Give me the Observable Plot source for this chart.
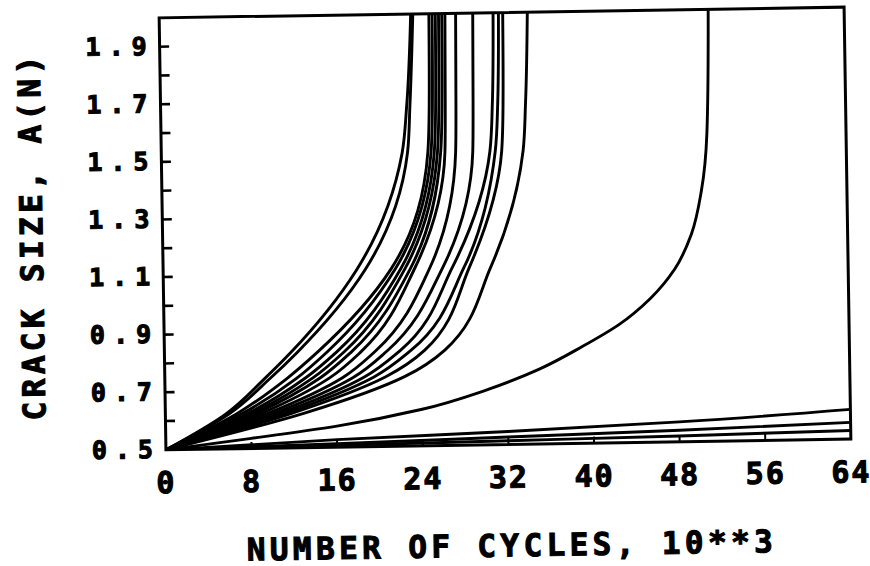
<!DOCTYPE html>
<html>
<head>
<meta charset="utf-8">
<script src="https://cdn.jsdelivr.net/npm/d3@7"></script>
<script src="https://cdn.jsdelivr.net/npm/@observablehq/plot@0.6"></script>
<style>
  html, body { margin: 0; padding: 0; background: #fff; overflow: hidden; }
  #chart { width: 870px; height: 566px; }
  #chart svg { overflow: visible; transform-origin: 504px 228px; transform: rotate(-0.9deg); }
  #chart text { stroke: #000; stroke-width: 1.1px; }
  #chart g[aria-label="y-axis tick label"] text { letter-spacing: 8px; }
  #chart g[aria-label="x-axis tick label"] text { letter-spacing: 2px; }
  #chart g[aria-label="text"] text { letter-spacing: 4.4px; }
</style>
</head>
<body>
<div id="chart"></div>
<script>
// ---- data ----
const xTitle = "NUMBER OF CYCLES, 10**3";
const yTitle = "CRACK SIZE, A(N)";
const xTickLabels = [0, 8, 16, 24, 32, 40, 48, 56, 64];
const xInnerTicks = [8, 16, 24, 32, 40, 48, 56];
const yTickLabels = [0.5, 0.7, 0.9, 1.1, 1.3, 1.5, 1.7, 1.9];
const yInnerTicks = [0.6, 0.7, 0.8, 0.9, 1.0, 1.1, 1.2, 1.3, 1.4, 1.5, 1.6, 1.7, 1.8, 1.9];

// fast-growing curves: cycles (10^3) at which each reaches these crack sizes
const fastSizes = [0.5, 0.62, 0.741, 0.831, 1.116, 1.518, 1.684, 2.0];
const fastCycles = [
  [0, 5.6, 9.3, 11.8, 18.1, 22.5, 23.0, 23.5],
  [0, 5.9, 9.8, 12.4, 18.9, 23.0, 23.3, 23.7],
  [0, 6.6, 11.4, 14.3, 21.3, 24.9, 25.1, 25.2],
  [0, 7.1, 12.3, 15.2, 21.7, 25.2, 25.4, 25.5],
  [0, 7.6, 13.1, 16.1, 22.2, 25.5, 25.7, 25.8],
  [0, 8.0, 13.8, 16.8, 22.6, 25.8, 26.0, 26.1],
  [0, 8.4, 14.5, 17.5, 23.1, 26.1, 26.3, 26.4],
  [0, 8.9, 15.4, 18.4, 23.5, 26.5, 26.6, 26.7],
  [0, 9.5, 16.6, 19.7, 24.9, 27.5, 27.6, 27.7],
  [0, 10.1, 17.6, 20.8, 26.1, 29.1, 29.2, 29.3],
  [0, 10.7, 18.6, 22.0, 27.0, 30.7, 31.0, 31.2],
  [0, 11.2, 19.5, 23.0, 28.1, 31.2, 31.5, 31.7],
  [0, 11.8, 20.6, 24.3, 28.6, 31.8, 32.0, 32.1],
  [0, 13.0, 22.4, 26.2, 30.6, 33.8, 34.1, 34.4]
];

// the slower curve failing near 51 x 10^3 cycles
const midCycles = [0, 8, 16, 24, 30, 35, 39, 42.5, 45.5, 47.8, 49.4, 50.4, 51.0, 51.3];
const midSizes  = [0.5, 0.535, 0.573, 0.627, 0.69, 0.76, 0.835, 0.91, 1.0, 1.10, 1.22, 1.37, 1.57, 2.0];

// three very slow, nearly straight curves
const slowCycles = [0, 16, 32, 48, 64];
const slowSizes1 = [0.5, 0.526, 0.545, 0.569, 0.603];
const slowSizes2 = [0.5, 0.512, 0.526, 0.540, 0.558];
const slowSizes3 = [0.5, 0.506, 0.513, 0.520, 0.530];

// ---- build a long table for Plot ----
const rows = [];
fastCycles.forEach((cyc, i) => cyc.forEach((n, j) => rows.push({id: "f" + i, n, a: fastSizes[j]})));
midCycles.forEach((n, j) => rows.push({id: "m", n, a: midSizes[j]}));
[slowSizes1, slowSizes2, slowSizes3].forEach((s, i) =>
  slowCycles.forEach((n, j) => rows.push({id: "s" + i, n, a: s[j]})));

const W = 870, H = 566;
const mL = 162, mR = 23, mT = 12, mB = 122;
const frameW = W - mL - mR, frameH = H - mT - mB;
const font = "DejaVu Sans Mono";

const chart = Plot.plot({
  width: W, height: H,
  marginLeft: mL, marginRight: mR, marginTop: mT, marginBottom: mB,
  style: {background: "#fff", color: "#000", overflow: "visible"},
  x: {domain: [0, 64], axis: null},
  y: {domain: [0.5, 2.0], axis: null},
  marks: [
    Plot.line(rows, {x: "n", y: "a", z: "id", curve: "monotone-y",
      stroke: "#000", strokeWidth: 2.9, clip: true}),
    Plot.tickY(yInnerTicks, {y: d => d, insetRight: frameW - 10, stroke: "#000", strokeWidth: 2.6}),
    Plot.tickX(xInnerTicks, {x: d => d, insetTop: frameH - 6, stroke: "#000", strokeWidth: 2}),
    Plot.axisY(yTickLabels, {tickSize: 0, tickPadding: 5, label: null,
      tickFormat: d => d.toFixed(1),
      fontSize: 25, fontWeight: "bold", fontFamily: font}),
    Plot.axisX(xTickLabels, {tickSize: 0, tickPadding: 22, label: null,
      fontSize: 30, fontWeight: "bold", fontFamily: font}),
    Plot.text([yTitle], {frameAnchor: "left", rotate: -90, dx: -130, text: d => d,
      textAnchor: "middle", lineAnchor: "middle",
      fontSize: 31, fontWeight: "bold", fontFamily: font}),
    Plot.text([xTitle], {frameAnchor: "bottom", dy: 102, dx: 2, text: d => d,
      textAnchor: "middle", lineAnchor: "middle",
      fontSize: 31, fontWeight: "bold", fontFamily: font}),
    Plot.frame({stroke: "#000", strokeWidth: 3})
  ]
});
document.getElementById("chart").appendChild(chart);
</script>
</body>
</html>
